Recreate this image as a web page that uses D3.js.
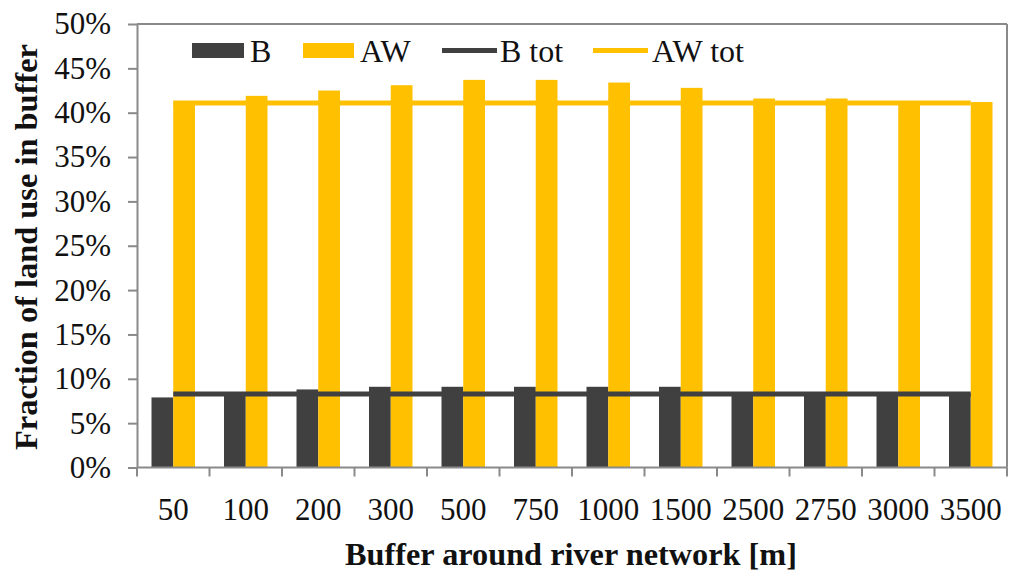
<!DOCTYPE html>
<html><head><meta charset="utf-8">
<script src="https://cdn.jsdelivr.net/npm/d3@7"></script>
<style>html,body{margin:0;padding:0;background:#fff;}svg{display:block;}</style>
</head><body>
<svg id="chart" width="1009" height="574"></svg>
<script>
const categories = ["50","100","200","300","500","750","1000","1500","2500","2750","3000","3500"];
const valuesB  = [7.9, 8.4, 8.8, 9.1, 9.1, 9.1, 9.1, 9.1, 8.3, 8.3, 8.3, 8.3];
const valuesAW = [41.1, 41.9, 42.5, 43.1, 43.7, 43.7, 43.4, 42.8, 41.6, 41.6, 41.2, 41.2];
const totB  = 8.3;
const totAW = 41.1;
const yTicks = [0,5,10,15,20,25,30,35,40,45,50];
const seriesNames = ["B","AW","B tot","AW tot"];

(function(){
const colB = "#404040", colAW = "#FFC000", axisCol = "#8a8a8a";
const font = '"Liberation Serif"';
const svg = d3.select("#chart");

const pLeft = 137, pRight = 1007, pTop = 24, pBottom = 467.5;
const x = d3.scaleBand().domain(categories).range([pLeft, pRight]).padding(0);
const bw = x.bandwidth();
const xs = d3.scaleBand().domain(["B","AW"]).range([0.2*bw, 0.8*bw]).padding(0);
const y = d3.scaleLinear().domain([0,50]).range([pBottom, pTop]);

// bars
const g = svg.append("g");
g.selectAll("rect.b").data(categories).enter().append("rect")
  .attr("x", (d)=>x(d)+xs("B")).attr("width", xs.bandwidth())
  .attr("y", (d,i)=>y(valuesB[i])).attr("height", (d,i)=>y(0)-y(valuesB[i]))
  .attr("fill", colB);
g.selectAll("rect.aw").data(categories).enter().append("rect")
  .attr("x", (d)=>x(d)+xs("AW")).attr("width", xs.bandwidth())
  .attr("y", (d,i)=>y(valuesAW[i])).attr("height", (d,i)=>y(0)-y(valuesAW[i]))
  .attr("fill", colAW);

// total lines
const xc = d => x(d) + bw/2;
const line = d3.line().x(d=>xc(d[0])).y(d=>y(d[1]));
g.append("path").datum(categories.map(c=>[c,totAW])).attr("d", line)
  .attr("fill","none").attr("stroke", colAW).attr("stroke-width", 5);
g.append("path").datum(categories.map(c=>[c,totB])).attr("d", line)
  .attr("fill","none").attr("stroke", colB).attr("stroke-width", 5);

// frame (top and right)
svg.append("line").attr("x1", pLeft).attr("x2", pRight).attr("y1", y(50)).attr("y2", y(50))
  .attr("stroke", axisCol).attr("stroke-width", 2);
svg.append("line").attr("x1", pRight).attr("x2", pRight).attr("y1", y(50)).attr("y2", y(0))
  .attr("stroke", axisCol).attr("stroke-width", 2);

// y axis
const yAxis = d3.axisLeft(y).tickValues(yTicks).tickFormat(d=>d+"%").tickSize(9).tickSizeOuter(0).tickPadding(17);
const ya = svg.append("g").attr("transform", `translate(${pLeft},0)`).call(yAxis);
ya.attr("font-family", null).attr("font-size", null);
ya.select(".domain").attr("stroke", axisCol).attr("stroke-width", 2);
ya.selectAll(".tick line").attr("stroke", axisCol).attr("stroke-width", 2);
ya.selectAll(".tick text").style("font-family", font).style("font-size", "31px").attr("fill", "#111");

// x axis
const xa = svg.append("g").attr("transform", `translate(0,${pBottom})`);
xa.append("line").attr("x1", pLeft).attr("x2", pRight).attr("stroke", axisCol).attr("stroke-width", 2);
const bounds = categories.map(c=>x(c)).concat([pRight]);
xa.selectAll("line.tk").data(bounds).enter().append("line")
  .attr("x1", d=>d).attr("x2", d=>d).attr("y1", 0).attr("y2", 9)
  .attr("stroke", axisCol).attr("stroke-width", 2);
xa.selectAll("text").data(categories).enter().append("text")
  .attr("x", d=>xc(d)).attr("y", 52).attr("text-anchor","middle")
  .style("font-family", font).style("font-size", "31px").attr("fill", "#111").text(d=>d);

// axis titles
svg.append("text").attr("x", 571).attr("y", 565).attr("text-anchor","middle")
  .style("font-family", font).style("font-weight","bold").style("font-size", "32px").attr("fill","#111")
  .attr("textLength", 452).attr("lengthAdjust","spacingAndGlyphs")
  .text("Buffer around river network [m]");
svg.append("text").attr("transform","translate(37,247) rotate(-90)").attr("text-anchor","middle")
  .style("font-family", font).style("font-weight","bold").style("font-size", "32px").attr("fill","#111")
  .attr("textLength", 406).attr("lengthAdjust","spacingAndGlyphs")
  .text("Fraction of land use in buffer");

// legend
const legItems = [
  {name: seriesNames[0], type:"rect", col: colB, x0:192, x1:244, tx:250},
  {name: seriesNames[1], type:"rect", col: colAW, x0:303, x1:354, tx:360},
  {name: seriesNames[2], type:"line", col: colB, x0:442, x1:497, tx:500},
  {name: seriesNames[3], type:"line", col: colAW, x0:593, x1:648, tx:652}
];
const lg = svg.append("g");
legItems.forEach(it=>{
  if (it.type==="rect") {
    lg.append("rect").attr("x", it.x0).attr("y", 43).attr("width", it.x1-it.x0).attr("height", 15).attr("fill", it.col);
  } else {
    lg.append("line").attr("x1", it.x0).attr("x2", it.x1).attr("y1", 50.5).attr("y2", 50.5)
      .attr("stroke", it.col).attr("stroke-width", 5);
  }
  lg.append("text").attr("x", it.tx).attr("y", 62).style("font-family", font).style("font-size", "32px")
    .attr("fill","#111").text(it.name);
});
})();
</script>
</body></html>
